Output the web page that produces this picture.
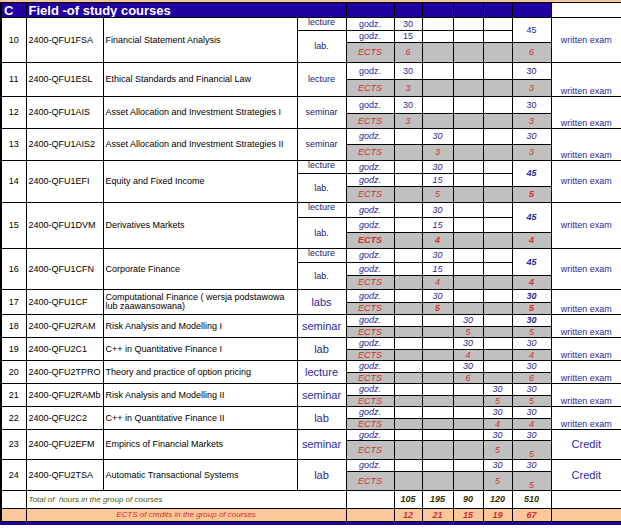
<!DOCTYPE html><html><head><meta charset="utf-8">
<script src="https://cdn.jsdelivr.net/npm/chart.js@4"></script>
<style>
body{margin:0;background:#fff;font-family:"Liberation Sans",Arial,sans-serif;}
table{border-collapse:collapse;table-layout:fixed;width:621px;}
td{border:1px solid #000;padding:0 2px;font-size:9px;overflow:hidden;white-space:nowrap;line-height:1;}
.g{background:#c0c0c0}
.b{color:#2a2a9a}
.r{color:#d03030}
.c{text-align:center}
.i{font-style:italic}
</style></head><body>
<div style="height:2px;background:#fcc89b"></div>
<table id="t"></table>
<script>
const colW=[25,77,194,49,48,28,31,30,29,39,71];
const courseNums=[10,11,12,13,14,15,16,17,18,19,20,21,22,23,24];
const courseCodes=["2400-QFU1FSA","2400-QFU1ESL","2400-QFU1AIS","2400-QFU1AIS2","2400-QFU1EFI","2400-QFU1DVM","2400-QFU1CFN","2400-QFU1CF","2400-QFU2RAM","2400-QFU2C1","2400-QFU2TPRO","2400-QFU2RAMb","2400-QFU2C2","2400-QFU2EFM","2400-QFU2TSA"];
const courseNames=["Financial Statement Analysis","Ethical Standards and Financial Law","Asset Allocation and Investment Strategies I","Asset Allocation and Investment Strategies II","Equity and Fixed Income","Derivatives Markets","Corporate Finance","Computational Finance ( wersja podstawowa<br>lub zaawansowana)","Risk Analysis and Modelling I","C++ in Quantitative Finance I","Theory and practice of option pricing","Risk Analysis and Modelling II","C++ in Quantitative Finance II","Empirics of Financial Markets","Automatic Transactional Systems"];
const courseTypes=[["lecture","lab."],["lecture"],["seminar"],["seminar"],["lecture","lab."],["lecture","lab."],["lecture","lab."],["labs"],["seminar"],["lab"],["lecture"],["seminar"],["lab"],["seminar"],["lab"]];
const courseSemester=[0,0,0,1,1,1,1,1,2,2,2,3,3,3,3];
const godzValues=[[30,15],[30],[30],[30],[30,15],[30,15],[30,15],[30],[30],[30],[30],[30],[30],[30],[30]];
const ectsValues=[6,3,3,3,5,4,4,5,5,4,6,5,4,5,5];
const godzTotals=[45,30,30,30,45,45,45,30,30,30,30,30,30,30,30];
const examTypes=["written exam","written exam","written exam","written exam","written exam","written exam","written exam","written exam","written exam","written exam","written exam","written exam","written exam","Credit","Credit"];
const subHeights=[[13,12,20],[17,17],[17,15],[16,16],[13,13,16],[15,15,16],[14,13,14],[13,12],[12,11],[12,11],[12,11],[12,11],[12,11],[11,19],[12,19]];
const semHours=[105,195,90,120,510];
const semEcts=[12,21,15,19,67];

const t=document.getElementById('t');
let h='<colgroup>'+colW.map(w=>`<col style="width:${w}px">`).join('')+'</colgroup>';
h+=`<tr style="height:15px;background:#2000a0;color:#fff;font-weight:bold"><td style="font-size:13px;border-left:2px solid #000">C</td><td colspan="3" style="font-size:13px">Field -of study courses</td>`+'<td></td>'.repeat(6)+'<td style="background:#fff"></td></tr>';
courseNums.forEach((n,c)=>{
  const gz=godzValues[c], nSub=gz.length+1, hs=subHeights[c], it=c>=3?' i':'';
  const big=c>=7, tsz=big?'font-size:11px;':'';
  const tb=c>=4&&c<=6;
  for(let s=0;s<nSub;s++){
    const isE=s===gz.length;
    h+=`<tr style="height:${hs[s]}px">`;
    if(s===0){
      h+=`<td rowspan="${nSub}" class="c" style="border-left:2px solid #000">${n}</td><td rowspan="${nSub}">${courseCodes[c]}</td><td rowspan="${nSub}" style="white-space:normal">${courseNames[c]}</td>`;
    }
    const ty=courseTypes[c];
    const tc=c<7?'color:#1a1a70;':'';
    if(ty.length===1){ if(s===0) h+=`<td rowspan="${nSub}" class="c b" style="${tsz}${tc}">${ty[0]}</td>`; }
    else { if(s===0) h+=`<td class="c b" style="vertical-align:top;${tc}">${ty[0]}</td>`; if(s===1) h+=`<td rowspan="${nSub-1}" class="c b" style="${tc}">${ty[1]}</td>`; }
    if(!isE){
      h+=`<td class="c b${it}">godz.</td>`;
      for(let k=0;k<4;k++) h+=`<td class="c b${it}">${k===courseSemester[c]?gz[s]:''}</td>`;
      if(s===0) h+=`<td rowspan="${gz.length}" class="c b${it}" style="${tb||c===7||c===8?'font-weight:bold;':''}">${godzTotals[c]}</td>`;
    } else {
      const bw=(c===5||c===7)?'font-weight:bold;':'';
      h+=`<td class="c g r i" style="${c===5?'font-weight:bold':''}">ECTS</td>`;
      for(let k=0;k<4;k++) h+=`<td class="c g r i" style="${bw}">${k===courseSemester[c]?ectsValues[c]:''}</td>`;
      h+=`<td class="c g r i" style="${tb||c===7?'font-weight:bold;':''}${c>=13?'vertical-align:bottom':''}">${ectsValues[c]}</td>`;
    }
    if(s===0){
      const cr=examTypes[c]==='Credit', mid=gz.length>1||cr;
      h+=`<td rowspan="${nSub}" class="c b" style="border-right:2px solid #000;${cr?'font-size:11px;':''}vertical-align:${mid?'middle':'bottom'}">${examTypes[c]}</td>`;
    }
    h+='</tr>';
  }
});
h+=`<tr style="height:18px"><td style="border-left:2px solid #000"></td><td colspan="3" class="i" style="color:#406000;font-size:8px">Total of &nbsp;hours in the group of courses</td><td></td>`+semHours.map(v=>`<td class="c i" style="font-weight:bold;color:#303000">${v}</td>`).join('')+`<td style="border-right:2px solid #000"></td></tr>`;
h+=`<tr style="height:13px;background:#fcc89b"><td style="border-left:2px solid #000"></td><td colspan="3" class="c r i" style="font-size:8px">ECTS of credits in the group of courses</td><td></td>`+semEcts.map(v=>`<td class="c r i" style="font-weight:bold">${v}</td>`).join('')+`<td></td></tr>`;
t.innerHTML=h;
</script>
<div style="height:3px;background:#2000a0"></div>
</body></html>
